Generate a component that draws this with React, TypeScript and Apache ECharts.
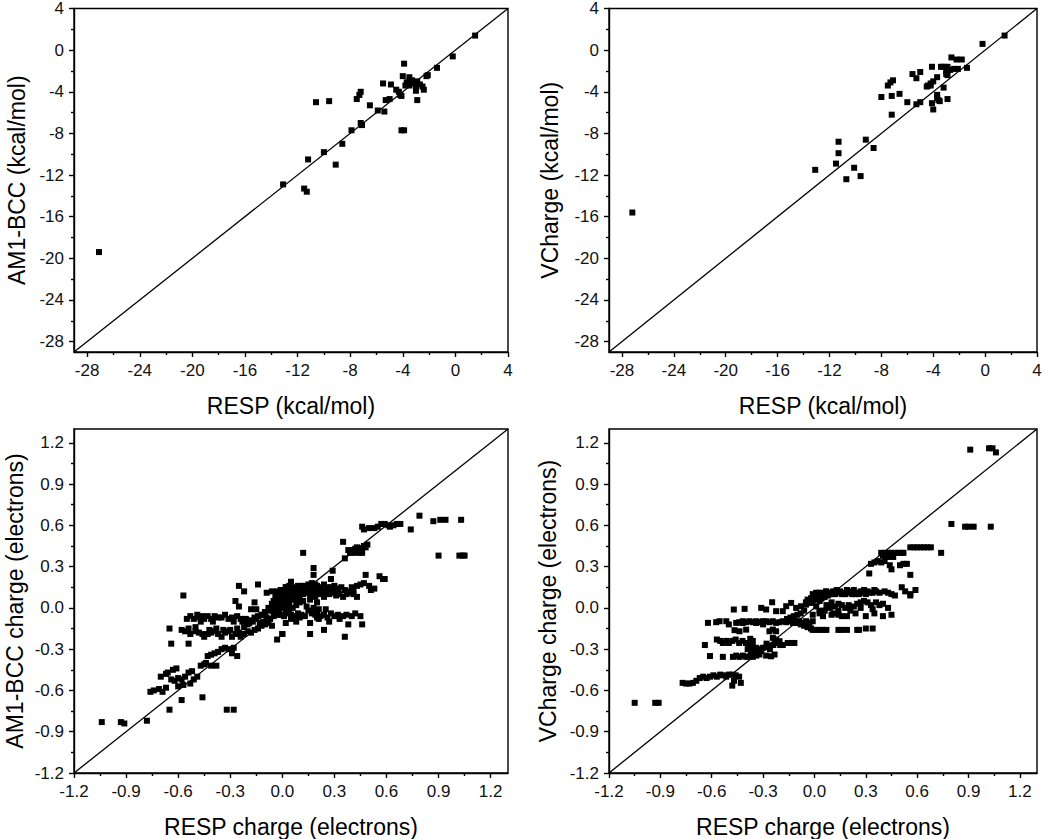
import React, { useEffect, useRef } from "react";
import * as echarts from "echarts";

// ---- axis ranges and ticks ----
const kcalRange = [-29, 4];
const kcalTicks = [-28, -24, -20, -16, -12, -8, -4, 0, 4];
const kcalMinor = [-26, -22, -18, -14, -10, -6, -2, 2];
const chargeRange = [-1.2, 1.3];
const chargeTicks = [-1.2, -0.9, -0.6, -0.3, 0, 0.3, 0.6, 0.9, 1.2];
const chargeMinor = [-1.05, -0.75, -0.45, -0.15, 0.15, 0.45, 0.75, 1.05];

// ---- titles ----
const xTitleKcal = "RESP (kcal/mol)";
const xTitleCharge = "RESP charge (electrons)";
const yTitleTL = "AM1-BCC (kcal/mol)";
const yTitleTR = "VCharge (kcal/mol)";
const yTitleBL = "AM1-BCC charge (electrons)";
const yTitleBR = "VCharge charge (electrons)";

// ---- data: [RESP, model] ----
const am1bccEnergy = [
  [1.5, 1.4], [-0.2, -0.6], [-1.4, -1.7], [-2.1, -2.4], [-2.2, -2.5], [-3.9, -1.3], [-4.0, -2.5],
  [-3.5, -2.6], [-3.5, -3.0], [-3.2, -3.2], [-2.9, -3.0], [-3.5, -3.4], [-3.0, -3.4], [-2.5, -3.5],
  [-2.4, -3.8], [-3.0, -3.9], [-2.9, -4.8], [-5.5, -3.2], [-4.9, -3.3], [-4.5, -3.8], [-4.3, -4.0],
  [-4.2, -4.3], [-4.1, -4.4], [-5.0, -4.7], [-5.3, -4.8], [-5.4, -5.9], [-5.9, -5.8], [-6.5, -5.3],
  [-7.2, -4.0], [-7.3, -4.3], [-7.5, -4.7], [-7.1, -7.2], [-7.2, -7.0], [-7.9, -7.7], [-8.6, -9.0],
  [-10.0, -9.8], [-11.2, -10.5], [-9.1, -11.0], [-13.1, -12.9], [-11.5, -13.3], [-11.3, -13.6],
  [-10.6, -5.0], [-9.6, -4.9], [-4.1, -7.7], [-3.9, -7.7], [-27.1, -19.4], [-3.7, -3.1],
  [-3.3, -2.9], [-2.7, -3.3], [-3.8, -3.4],
];

const vchargeEnergy = [
  [1.5, 1.4], [-0.2, 0.6], [-1.4, -1.7], [-2.2, -0.9], [-2.6, -0.7], [-2.4, -1.8], [-2.1, -1.8],
  [-2.9, -1.6], [-3.0, -2.0], [-2.9, -2.4], [-3.4, -1.6], [-3.2, -1.6], [-4.1, -1.6], [-3.7, -2.6],
  [-4.0, -3.0], [-4.2, -3.2], [-4.4, -3.4], [-4.5, -3.5], [-3.2, -3.6], [-3.7, -4.3], [-3.7, -4.6],
  [-3.5, -4.9], [-4.1, -5.1], [-4.0, -5.7], [-2.9, -4.7], [-5.0, -2.1], [-5.6, -2.3], [-5.3, -2.7],
  [-5.3, -5.2], [-5.0, -5.0], [-6.0, -5.0], [-6.6, -4.2], [-7.1, -2.9], [-7.3, -3.1], [-7.5, -3.4],
  [-7.2, -4.4], [-8.0, -4.5], [-7.2, -6.2], [-9.2, -8.6], [-8.6, -9.4], [-11.3, -8.8],
  [-11.3, -9.9], [-11.5, -10.9], [-13.1, -11.5], [-10.1, -11.3], [-10.7, -12.4], [-9.6, -12.1],
  [-27.2, -15.6], [-3.0, -2.3], [-2.7, -1.9], [-1.8, -0.9], [-3.6, -4.8], [-4.2, -3.4],
];

const am1bccCharge = [
  [-1.04, -0.83], [-0.93, -0.83], [-0.91, -0.84], [-0.78, -0.82], [-0.65, -0.74], [-0.58, -0.67],
  [-0.46, -0.65], [-0.32, -0.74], [-0.28, -0.74], [-0.57, 0.09], [-0.65, -0.15], [-0.64, -0.26],
  [-0.54, -0.26], [0.79, 0.67], [0.87, 0.63], [0.91, 0.64], [0.94, 0.64], [1.03, 0.64], [0.9, 0.38],
  [1.02, 0.38], [1.04, 0.38], [1.05, 0.38], [0.74, 0.57],
  [0.46, 0.59], [0.47, 0.57], [0.53, 0.58], [0.55, 0.59], [0.57, 0.61], [0.59, 0.61], [0.61, 0.6],
  [0.62, 0.59], [0.64, 0.6], [0.66, 0.61], [0.68, 0.61], [0.5, 0.58],
  [0.35, 0.48], [0.38, 0.42], [0.4, 0.41], [0.41, 0.42], [0.43, 0.44], [0.45, 0.43], [0.47, 0.45],
  [0.49, 0.46], [0.39, 0.4], [0.41, 0.4], [0.44, 0.4], [0.46, 0.4], [0.36, 0.36], [0.42, 0.43], [0.48, 0.44],
  [0.12, 0.4], [0.18, 0.29], [0.18, 0.24], [0.29, 0.27], [0.28, 0.21], [0.48, 0.24], [0.56, 0.23],
  [0.58, 0.21], [0.59, 0.21], [0.53, 0.14], [0.5, 0.16],
  [0.02, 0.15], [0.05, 0.19], [0.04, 0.16], [0.07, 0.15], [0.09, 0.16], [0.11, 0.16], [0.13, 0.16],
  [0.15, 0.17], [0.17, 0.18], [0.19, 0.17], [0.2, 0.16], [0.22, 0.15], [0.24, 0.17], [0.26, 0.15],
  [0.28, 0.15], [0.3, 0.16], [0.32, 0.14], [0.34, 0.15], [0.36, 0.13], [0.38, 0.12], [0.4, 0.15],
  [0.41, 0.13], [0.43, 0.16], [0.45, 0.17], [0.47, 0.18],
  [0.0, 0.08], [0.02, 0.11], [0.04, 0.1], [0.06, 0.11], [0.08, 0.1], [0.1, 0.08], [0.12, 0.1],
  [0.14, 0.11], [0.16, 0.09], [0.18, 0.1], [0.19, 0.08], [0.21, 0.1], [0.23, 0.11], [0.25, 0.12],
  [0.27, 0.1], [0.29, 0.11], [0.31, 0.09], [0.33, 0.1], [0.35, 0.08], [0.37, 0.1], [0.39, 0.11],
  [0.41, 0.1], [0.43, 0.08], [0.51, 0.13],
  [-0.02, 0.06], [0.0, 0.04], [0.02, 0.05], [-0.01, 0.01], [0.01, 0.02], [0.03, 0.06], [0.05, 0.07],
  [0.07, 0.06], [0.09, 0.05], [-0.02, -0.01], [0.0, 0.0], [0.1, 0.04], [0.14, 0.01], [0.18, 0.0],
  [0.21, -0.01], [0.25, -0.01], [-0.04, 0.02], [-0.03, 0.08], [-0.05, 0.05], [0.04, 0.03], [0.06, 0.0],
  [-0.06, 0.03], [0.03, 0.12], [-0.01, 0.1],
  [-0.04, 0.09], [-0.02, 0.11], [0.0, 0.12], [0.01, 0.09], [0.03, 0.08], [0.05, 0.12], [0.07, 0.13],
  [0.09, 0.12], [0.11, 0.13], [0.13, 0.12], [0.15, 0.13], [0.17, 0.14], [0.19, 0.13], [0.21, 0.13],
  [0.23, 0.14], [0.25, 0.14], [0.27, 0.13], [0.29, 0.14], [0.32, 0.12], [0.08, 0.02], [0.12, 0.05],
  [0.16, 0.06], [0.2, 0.04], [0.24, 0.08], [0.04, -0.01],
  [-0.02, -0.05], [0.01, -0.06], [0.03, -0.04], [0.05, -0.05], [0.07, -0.06], [0.09, -0.04],
  [0.11, -0.05], [0.13, -0.06], [0.15, -0.02], [0.17, -0.04], [0.19, -0.05], [0.2, -0.04],
  [0.22, -0.06], [0.24, -0.05], [0.26, -0.07], [0.3, -0.06], [0.32, -0.05], [0.35, -0.06],
  [0.37, -0.05], [0.4, -0.06], [0.45, -0.06], [0.05, -0.08], [0.1, -0.07], [0.2, -0.07],
  [0.28, -0.04], [0.33, -0.08], [0.42, -0.04],
  [0.0, -0.19], [0.16, -0.19], [0.24, -0.16], [0.36, -0.21], [0.38, -0.12], [0.46, -0.12],
  [0.02, -0.11], [0.08, -0.1], [0.16, -0.11], [0.21, -0.08], [0.27, -0.1],
  [-0.55, -0.08], [-0.53, -0.06], [-0.51, -0.08], [-0.48, -0.07], [-0.46, -0.06], [-0.45, -0.08],
  [-0.43, -0.06], [-0.41, -0.08], [-0.39, -0.06], [-0.37, -0.07], [-0.35, -0.07], [-0.33, -0.05],
  [-0.31, -0.08], [-0.29, -0.07], [-0.26, -0.06], [-0.24, -0.08], [-0.23, -0.1], [-0.21, -0.08],
  [-0.19, -0.11], [-0.17, -0.1], [-0.15, -0.08], [-0.13, -0.11], [-0.11, -0.1], [-0.09, -0.07],
  [-0.07, -0.08], [-0.05, -0.06], [-0.03, -0.05], [-0.02, -0.04], [0.0, -0.05], [0.02, -0.02],
  [-0.08, 0.0], [-0.06, -0.01], [-0.04, -0.03], [-0.1, -0.03], [-0.12, -0.05], [-0.14, -0.06],
  [-0.16, -0.07], [-0.18, -0.09], [-0.2, -0.12], [-0.22, -0.14], [-0.26, -0.15], [-0.3, -0.16],
  [-0.34, -0.16], [-0.38, -0.15], [-0.42, -0.16], [-0.5, -0.14], [-0.47, -0.1], [-0.49, -0.05],
  [-0.4, -0.1], [-0.28, -0.1],
  [-0.58, -0.16], [-0.56, -0.17], [-0.54, -0.15], [-0.53, -0.19], [-0.5, -0.17], [-0.48, -0.18],
  [-0.46, -0.19], [-0.45, -0.21], [-0.43, -0.19], [-0.41, -0.18], [-0.39, -0.17], [-0.37, -0.19],
  [-0.35, -0.21], [-0.33, -0.18], [-0.31, -0.17], [-0.29, -0.21], [-0.27, -0.19], [-0.25, -0.18],
  [-0.24, -0.21], [-0.22, -0.19], [-0.2, -0.17], [-0.18, -0.18], [-0.16, -0.16], [-0.14, -0.15],
  [-0.12, -0.13], [-0.1, -0.12], [-0.08, -0.11], [-0.06, -0.13], [-0.03, -0.23], [0.0, -0.19],
  [-0.25, 0.16], [-0.22, 0.12], [-0.14, 0.17], [-0.27, 0.05], [-0.25, 0.01], [-0.16, 0.04],
  [-0.18, -0.01], [-0.15, -0.01], [-0.09, 0.11], [-0.06, 0.12], [-0.03, 0.12], [-0.01, 0.13],
  [0.02, 0.15], [0.02, 0.06], [-0.01, 0.02], [-0.03, 0.04], [-0.05, 0.0], [-0.07, -0.02], [-0.11, -0.05],
  [-0.76, -0.61], [-0.74, -0.6], [-0.71, -0.59], [-0.69, -0.61], [-0.67, -0.58], [-0.7, -0.5],
  [-0.67, -0.48], [-0.66, -0.47], [-0.63, -0.45], [-0.61, -0.44], [-0.64, -0.52], [-0.62, -0.53],
  [-0.6, -0.51], [-0.58, -0.52], [-0.56, -0.5], [-0.54, -0.47], [-0.52, -0.46], [-0.53, -0.55],
  [-0.51, -0.52], [-0.49, -0.5], [-0.57, -0.56], [-0.6, -0.57], [-0.47, -0.42], [-0.45, -0.41],
  [-0.44, -0.4], [-0.43, -0.35], [-0.41, -0.34], [-0.39, -0.33], [-0.37, -0.32], [-0.35, -0.3],
  [-0.38, -0.42], [-0.41, -0.42], [-0.33, -0.29], [-0.31, -0.3], [-0.29, -0.33], [-0.26, -0.35],
  [-0.28, -0.29],
];

const vchargeCharge = [
  [-1.05, -0.69], [-0.93, -0.69], [-0.91, -0.69], [0.91, 1.15], [1.02, 1.16], [1.04, 1.16],
  [1.06, 1.13], [0.8, 0.61], [0.88, 0.59], [0.9, 0.59], [0.93, 0.59], [1.03, 0.59], [0.74, 0.4],
  [0.56, 0.44], [0.58, 0.44], [0.6, 0.44], [0.62, 0.44], [0.64, 0.44], [0.66, 0.44], [0.68, 0.44], [0.52, 0.4],
  [0.39, 0.4], [0.41, 0.4], [0.43, 0.4], [0.45, 0.4], [0.47, 0.4], [0.49, 0.4], [0.51, 0.4],
  [0.4, 0.38], [0.43, 0.37], [0.46, 0.37], [0.33, 0.32], [0.35, 0.33], [0.37, 0.34], [0.39, 0.33],
  [0.41, 0.34], [0.44, 0.31], [0.45, 0.28], [0.5, 0.31], [0.52, 0.32], [0.54, 0.32], [0.32, 0.25], [0.56, 0.24],
  [-0.01, 0.1], [0.01, 0.11], [0.03, 0.11], [0.05, 0.1], [0.07, 0.11], [0.09, 0.11], [0.11, 0.12],
  [0.13, 0.13], [0.15, 0.12], [0.17, 0.11], [0.19, 0.13], [0.21, 0.12], [0.23, 0.13], [0.25, 0.11],
  [0.27, 0.12], [0.29, 0.13], [0.31, 0.12], [0.34, 0.11], [0.35, 0.13], [0.41, 0.12], [0.43, 0.11],
  [0.45, 0.1], [0.47, 0.09], [0.51, 0.15], [0.53, 0.12], [0.56, 0.1], [0.59, 0.13], [0.56, 0.09],
  [0.02, 0.08], [0.04, 0.07], [0.06, 0.08], [0.08, 0.09], [0.1, 0.1], [0.12, 0.1], [0.14, 0.11],
  [0.16, 0.1], [0.18, 0.1], [0.2, 0.11], [0.22, 0.1], [0.24, 0.1], [0.26, 0.1], [0.28, 0.11],
  [0.3, 0.1], [0.32, 0.11], [0.36, 0.12], [0.38, 0.11], [-0.02, 0.07], [-0.04, 0.06],
  [-0.01, 0.04], [0.01, 0.01], [0.03, 0.05], [0.07, 0.02], [0.1, 0.04], [0.12, 0.01], [0.14, 0.03],
  [0.16, 0.02], [0.18, 0.0], [0.2, 0.02], [0.23, 0.01], [0.25, 0.03], [0.27, 0.04], [0.29, 0.05],
  [0.31, 0.04], [0.34, -0.01], [0.36, 0.04], [0.38, 0.02], [0.4, 0.03], [0.43, 0.0], [0.45, -0.05],
  [0.06, -0.02], [0.09, 0.0], [0.21, -0.02], [0.27, 0.0], [0.33, 0.02],
  [0.03, -0.04], [0.05, -0.06], [0.11, -0.04], [0.14, -0.05], [0.19, -0.06], [0.24, -0.04],
  [0.3, -0.06], [0.35, -0.04], [0.4, -0.06],
  [-0.01, -0.16], [0.01, -0.16], [0.03, -0.16], [0.05, -0.16], [0.07, -0.16], [0.14, -0.16],
  [0.16, -0.16], [0.19, -0.16], [0.25, -0.16], [0.34, -0.15], [0.26, -0.16], [0.3, -0.15],
  [0.0, 0.085], [0.02, 0.1], [0.04, 0.085], [0.06, 0.1], [0.08, 0.11], [-0.05, 0.04], [-0.03, 0.05],
  [-0.01, -0.05], [0.03, -0.02], [0.1, -0.05], [0.14, -0.02], [0.16, -0.06],
  [-0.06, -0.02], [-0.08, -0.04], [-0.1, -0.05], [-0.12, -0.06], [-0.14, -0.07], [-0.16, -0.08],
  [-0.08, -0.12], [-0.06, -0.13], [-0.04, -0.14], [-0.02, -0.15], [-0.1, -0.11], [-0.3, -0.12],
  [-0.34, -0.11], [-0.42, -0.11], [-0.5, -0.12],
  [-0.77, -0.545], [-0.75, -0.55], [-0.73, -0.55], [-0.71, -0.545], [-0.69, -0.53], [-0.67, -0.51],
  [-0.65, -0.5], [-0.63, -0.51], [-0.61, -0.5], [-0.59, -0.49], [-0.57, -0.5], [-0.55, -0.485],
  [-0.535, -0.49], [-0.515, -0.5], [-0.5, -0.485], [-0.48, -0.485], [-0.46, -0.49], [-0.44, -0.5],
  [-0.47, -0.53], [-0.48, -0.565], [-0.43, -0.545],
  [-0.61, -0.35], [-0.535, -0.356], [-0.476, -0.356], [-0.457, -0.347], [-0.438, -0.356],
  [-0.418, -0.347], [-0.399, -0.356], [-0.379, -0.352], [-0.36, -0.356], [-0.34, -0.347],
  [-0.321, -0.339], [-0.282, -0.347], [-0.253, -0.352], [-0.233, -0.339],
  [-0.64, -0.27], [-0.57, -0.23], [-0.55, -0.24], [-0.535, -0.255], [-0.515, -0.24], [-0.5, -0.255],
  [-0.48, -0.24], [-0.46, -0.23], [-0.44, -0.255], [-0.42, -0.24], [-0.4, -0.255], [-0.38, -0.27],
  [-0.36, -0.28], [-0.34, -0.29], [-0.32, -0.3], [-0.3, -0.29], [-0.28, -0.285], [-0.26, -0.275],
  [-0.24, -0.27], [-0.22, -0.255], [-0.2, -0.27], [-0.185, -0.27], [-0.156, -0.255], [-0.136, -0.255],
  [-0.117, -0.255], [-0.39, -0.3], [-0.37, -0.315], [-0.35, -0.327], [-0.33, -0.332], [-0.31, -0.315],
  [-0.28, -0.26], [-0.26, -0.3], [-0.36, -0.24],
  [-0.457, -0.109], [-0.438, -0.104], [-0.418, -0.097], [-0.399, -0.104], [-0.379, -0.097],
  [-0.36, -0.104], [-0.34, -0.097], [-0.321, -0.104], [-0.301, -0.097], [-0.282, -0.097],
  [-0.263, -0.104], [-0.243, -0.097], [-0.224, -0.109], [-0.204, -0.104], [-0.185, -0.097],
  [-0.165, -0.104], [-0.146, -0.097], [-0.126, -0.109], [-0.107, -0.097], [-0.088, -0.097],
  [-0.068, -0.109], [-0.049, -0.097], [-0.029, -0.109], [-0.01, -0.097],
  [-0.622, -0.109], [-0.574, -0.104], [-0.554, -0.097], [-0.515, -0.097],
  [-0.467, -0.162], [-0.438, -0.17], [-0.399, -0.158], [-0.375, -0.225], [-0.263, -0.17],
  [-0.243, -0.158], [-0.224, -0.17], [-0.243, -0.218], [-0.224, -0.23], [-0.204, -0.242],
  [-0.471, -0.012], [-0.408, -0.007], [-0.311, 0.0], [-0.282, -0.012], [-0.247, 0.041],
  [-0.224, -0.024], [-0.185, -0.024], [-0.165, 0.012], [-0.136, 0.036], [-0.107, 0.0],
  [-0.078, 0.012], [-0.049, 0.024], [-0.019, 0.036], [0.01, 0.061], [0.029, 0.085], [0.049, 0.109],
  [0.068, 0.121],
];

const FONT = "'Liberation Sans', Arial, Helvetica, sans-serif";

type Panel = {
  left: number; top: number; width: number; height: number;
  range: number[]; ticks: number[]; minor: number[];
  xTitle: string; yTitle: string; yGap: number;
  data: number[][]; decimals: number; size: number;
};

const panels: Panel[] = [
  { left: 74, top: 8, width: 434, height: 344, range: kcalRange, ticks: kcalTicks, minor: kcalMinor,
    xTitle: xTitleKcal, yTitle: yTitleTL, yGap: 46, data: am1bccEnergy, decimals: 0, size: 6 },
  { left: 609, top: 8, width: 428, height: 344, range: kcalRange, ticks: kcalTicks, minor: kcalMinor,
    xTitle: xTitleKcal, yTitle: yTitleTR, yGap: 48, data: vchargeEnergy, decimals: 0, size: 6 },
  { left: 74, top: 429, width: 434, height: 344, range: chargeRange, ticks: chargeTicks, minor: chargeMinor,
    xTitle: xTitleCharge, yTitle: yTitleBL, yGap: 48, data: am1bccCharge, decimals: 1, size: 6 },
  { left: 609, top: 429, width: 428, height: 344, range: chargeRange, ticks: chargeTicks, minor: chargeMinor,
    xTitle: xTitleCharge, yTitle: yTitleBR, yGap: 50, data: vchargeCharge, decimals: 1, size: 6 },
];

function buildOption() {
  const grid: any[] = [];
  const xAxis: any[] = [];
  const yAxis: any[] = [];
  const series: any[] = [];
  const lineStyle = { color: "#000", width: 1.4 };
  panels.forEach((p, i) => {
    grid.push({ left: p.left, top: p.top, width: p.width, height: p.height, show: true,
      borderColor: "#000", borderWidth: 1.4, backgroundColor: "transparent", containLabel: false });
    const fmt = (v: number) => (p.decimals ? v.toFixed(p.decimals) : String(Math.round(v)));
    const label = { customValues: p.ticks, fontSize: 17, color: "#111", fontFamily: FONT, formatter: fmt };
    const nameStyle = { fontSize: 23, color: "#000", fontFamily: FONT };
    xAxis.push({
      type: "value", gridIndex: i, position: "bottom", min: p.range[0], max: p.range[1],
      name: p.xTitle, nameLocation: "middle", nameGap: 42, nameTextStyle: nameStyle,
      axisLine: { show: true, onZero: false, lineStyle },
      axisTick: { show: true, inside: false, length: 5, customValues: p.ticks, lineStyle },
      axisLabel: { ...label, margin: 10 },
      splitLine: { show: false },
    });
    xAxis.push({
      type: "value", gridIndex: i, position: "bottom", min: p.range[0], max: p.range[1],
      axisLine: { show: false, onZero: false },
      axisTick: { show: true, inside: false, length: 3, customValues: p.minor, lineStyle },
      axisLabel: { show: false }, splitLine: { show: false },
    });
    yAxis.push({
      type: "value", gridIndex: i, position: "left", min: p.range[0], max: p.range[1],
      name: p.yTitle, nameLocation: "middle", nameGap: p.yGap, nameRotate: 90, nameTextStyle: nameStyle,
      axisLine: { show: true, onZero: false, lineStyle },
      axisTick: { show: true, inside: false, length: 5, customValues: p.ticks, lineStyle },
      axisLabel: { ...label, margin: 10 },
      splitLine: { show: false },
    });
    yAxis.push({
      type: "value", gridIndex: i, position: "left", min: p.range[0], max: p.range[1],
      axisLine: { show: false, onZero: false },
      axisTick: { show: true, inside: false, length: 3, customValues: p.minor, lineStyle },
      axisLabel: { show: false }, splitLine: { show: false },
    });
    series.push({
      type: "line", xAxisIndex: 2 * i, yAxisIndex: 2 * i,
      data: [[p.range[0], p.range[0]], [p.range[1], p.range[1]]],
      symbol: "none", lineStyle: { color: "#000", width: 1.3 }, silent: true, z: 1,
    });
    series.push({
      type: "scatter", xAxisIndex: 2 * i, yAxisIndex: 2 * i, data: p.data,
      symbol: "rect", symbolSize: p.size, itemStyle: { color: "#000", opacity: 1 }, z: 2,
    });
  });
  return { animation: false, backgroundColor: "#fff", grid, xAxis, yAxis, series };
}

export default function App() {
  const ref = useRef<HTMLDivElement>(null);
  useEffect(() => {
    if (!ref.current) return;
    const chart = echarts.init(ref.current, undefined, { renderer: "svg" });
    chart.setOption(buildOption() as any);
    return () => chart.dispose();
  }, []);
  return (
    <div
      ref={ref}
      style={{ position: "fixed", left: 0, top: 0, width: 1050, height: 839, background: "#fff" }}
    />
  );
}
